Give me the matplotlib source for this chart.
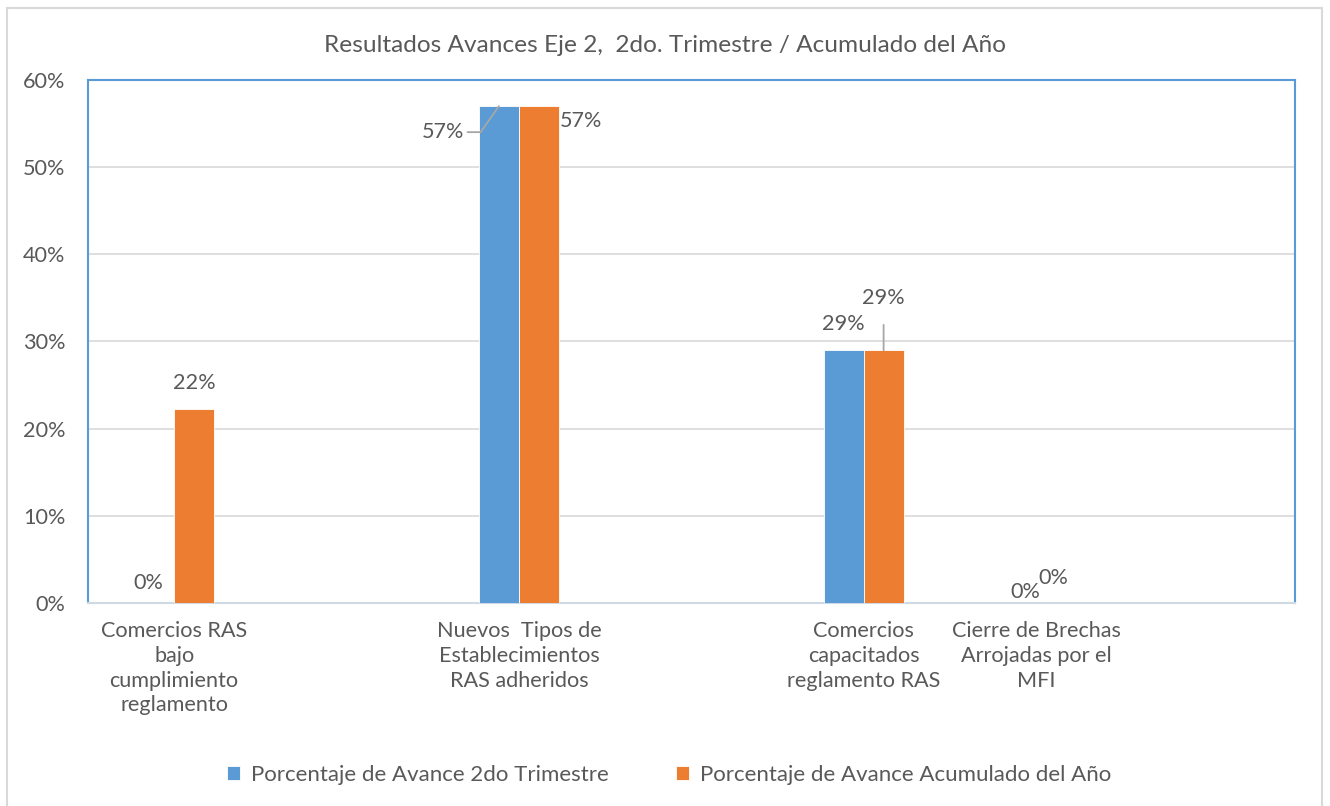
import matplotlib
matplotlib.use("Agg")
import matplotlib.pyplot as plt
from matplotlib.patches import Rectangle
from matplotlib.ticker import PercentFormatter, MultipleLocator
import numpy as np

categories = [
    "Comercios RAS\nbajo\ncumplimiento\nreglamento",
    "",
    "Nuevos  Tipos de\nEstablecimientos\nRAS adheridos",
    "",
    "Comercios\ncapacitados\nreglamento RAS",
    "Cierre de Brechas\nArrojadas por el\nMFI",
    "",
]
serie_trimestre = [0.0, np.nan, 0.57, np.nan, 0.29, 0.0, np.nan]
serie_acumulado = [0.222, np.nan, 0.57, np.nan, 0.29, 0.0, np.nan]
series_names = ["Porcentaje de Avance 2do Trimestre",
                "Porcentaje de Avance Acumulado del Año"]
title = "Resultados Avances Eje 2,  2do. Trimestre / Acumulado del Año"

BLUE = "#5B9BD5"
ORANGE = "#ED7D31"
TXT = "#595959"
GRID = "#D9D9D9"
FONT = "Lato"
FS = 15.6

plt.rcParams['font.family'] = [FONT, 'DejaVu Sans']

fig = plt.figure(figsize=(13.3, 8.06), dpi=100)
W, H = 1330, 806
ax = fig.add_axes([88 / W, 1 - 603 / H, (1294.5 - 88) / W, (603 - 80) / H])

# outer chart border
fig.patches.append(Rectangle((7 / W, -0.05), (1322 - 7) / W, 1.05 - 8 / H,
                             transform=fig.transFigure, fill=False,
                             edgecolor=GRID, linewidth=1.5))

x = np.arange(len(categories))
bw = 0.232
b1 = ax.bar(x - bw / 2, serie_trimestre, bw, color=BLUE, edgecolor="white",
            linewidth=0.6, label=series_names[0], zorder=3)
b2 = ax.bar(x + bw / 2, serie_acumulado, bw, color=ORANGE, edgecolor="white",
            linewidth=0.6, label=series_names[1], zorder=3)

ax.set_xlim(-0.5, len(categories) - 0.5)
ax.set_ylim(0, 0.6)
ax.yaxis.set_major_locator(MultipleLocator(0.1))
ax.yaxis.set_major_formatter(PercentFormatter(1.0, decimals=0))
ax.set_xticks(x)
ax.set_xticklabels(categories, linespacing=1.3)
ax.tick_params(axis='x', length=0, pad=13, labelsize=FS, labelcolor=TXT)
ax.tick_params(axis='y', length=0, pad=16.5, labelsize=FS, labelcolor=TXT)
ax.grid(axis='y', color=GRID, linewidth=1.2, zorder=0)
ax.set_axisbelow(True)
for s in ['left', 'top', 'right']:
    ax.spines[s].set_color(BLUE)
    ax.spines[s].set_linewidth(1.5)
ax.spines['bottom'].set_color("#CFD9E4")
ax.spines['bottom'].set_linewidth(1.5)

lead = dict(arrowstyle='-', color="#A6A6A6", lw=1.3, shrinkA=2, shrinkB=0)
vals = [serie_trimestre, serie_acumulado]
offs = [-bw / 2, bw / 2]
spec = {
    (0, 0): ((-6, 20), None),
    (1, 0): ((0, 26), None),
    (0, 2): ((-56, -26), 'blue57'),
    (1, 2): ((42, -15), None),
    (0, 4): ((0, 26), None),
    (1, 4): ((0, 52), 'vert'),
    (0, 5): ((9, 11), None),
    (1, 5): ((-3, 25), None),
}
for (si, ci), ((dx, dy), kind) in spec.items():
    v = vals[si][ci]
    xx = x[ci] + offs[si]
    txt = f"{v * 100:.0f}%"
    if kind == 'vert':
        ax.annotate(txt, xy=(xx, v), xytext=(dx, dy), textcoords='offset pixels',
                    ha='center', va='center', fontsize=FS, color=TXT,
                    arrowprops=dict(lead, shrinkA=10))
    elif kind == 'blue57':
        ax.annotate(txt, xy=(xx, v), xytext=(dx, dy), textcoords='offset pixels',
                    ha='center', va='center', fontsize=FS, color=TXT,
                    arrowprops=dict(lead, shrinkA=0,
                                    connectionstyle="angle,angleA=0,angleB=55,rad=0",
                                    relpos=(1.08, 0.5)))
    else:
        ax.annotate(txt, xy=(xx, v), xytext=(dx, dy), textcoords='offset pixels',
                    ha='center', va='center', fontsize=FS, color=TXT)

fig.text(665 / W, 1 - 45 / H, title, ha='center', va='center',
         fontsize=17.6, color=TXT)

leg = fig.legend(handles=[b1, b2], labels=series_names, loc='center',
                 bbox_to_anchor=(669 / W, 1 - 775 / H), ncol=2, frameon=False,
                 fontsize=FS + 0.4, handlelength=0.6, handleheight=0.6,
                 handletextpad=0.5, columnspacing=3.0)
for t in leg.get_texts():
    t.set_color(TXT)

fig.savefig("out.png", dpi=100)
